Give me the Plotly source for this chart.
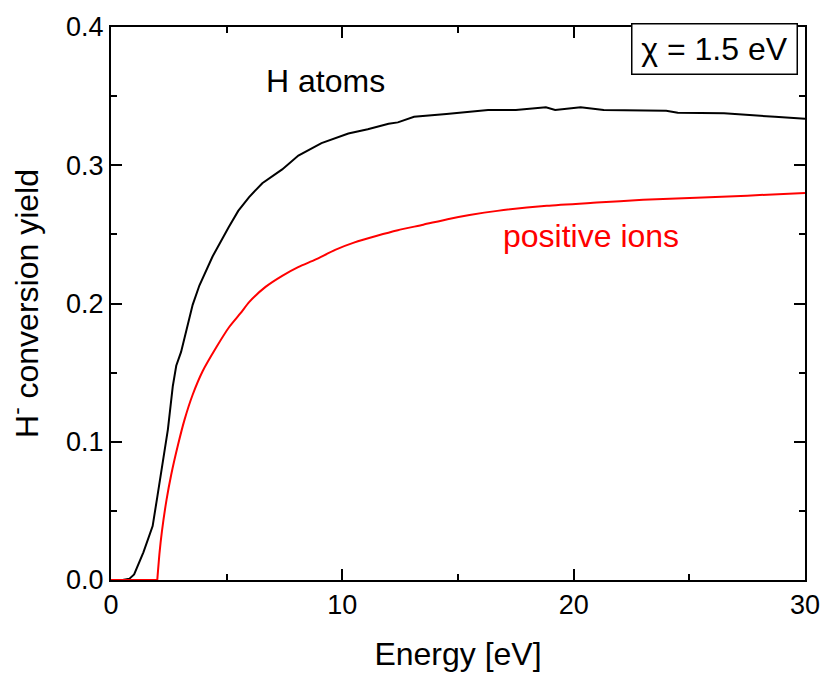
import plotly.graph_objects as go

# H- conversion yield versus incident energy (work function chi = 1.5 eV)
energy_atoms = [0.0, 0.5, 0.8, 1.0, 1.4, 1.8, 2.0, 2.1, 2.3, 2.46, 2.67, 2.82, 3.03, 3.25,
                3.53, 3.82, 4.39, 5.08, 5.5, 5.97, 6.54, 7.4, 8.1, 9.1, 10.26, 11.1,
                12.0, 12.4, 13.1, 14.5, 16.3, 17.5, 18.8, 19.2, 20.3, 21.3, 24.0, 24.5,
                26.5, 28.7, 30.0]
yield_atoms = [0.0, 0.0, 0.001, 0.004, 0.020, 0.039, 0.060, 0.071, 0.092, 0.109, 0.140,
               0.155, 0.165, 0.180, 0.199, 0.213, 0.234, 0.255, 0.267, 0.277, 0.287,
               0.297, 0.307, 0.316, 0.323, 0.326, 0.330, 0.331, 0.335, 0.337, 0.340,
               0.340, 0.342, 0.340, 0.342, 0.340, 0.3394, 0.338, 0.3376, 0.335, 0.3337]

energy_ions = [0.0, 2.0, 2.1, 2.2, 2.4, 2.6, 2.9, 3.18, 3.53, 3.96, 4.54, 5.11, 5.6,
               5.97, 6.68, 7.4, 8.11, 8.83, 9.69, 10.5, 11.5, 12.4, 13.5, 14.55, 15.5,
               16.7, 18.84, 21.0, 23.0, 25.3, 27.5, 30.0]
yield_ions = [0.0, 0.0, 0.020, 0.035, 0.058, 0.076, 0.098, 0.116, 0.134, 0.151, 0.168,
              0.183, 0.193, 0.201, 0.212, 0.220, 0.2265, 0.2317, 0.2388, 0.244, 0.249,
              0.253, 0.257, 0.261, 0.264, 0.267, 0.2707, 0.273, 0.275, 0.2765, 0.278,
              0.280]

x_ticks = [0, 10, 20, 30]
y_ticks = [0.0, 0.1, 0.2, 0.3, 0.4]

FONT = "Liberation Sans, Arial, sans-serif"

fig = go.Figure()
fig.add_trace(go.Scatter(x=energy_atoms, y=yield_atoms, mode="lines",
                         line=dict(color="black", width=2), name="H atoms"))
# the ion curve is a smooth model result: flat part, then a light spline
fig.add_trace(go.Scatter(x=energy_ions[:2], y=yield_ions[:2], mode="lines",
                         line=dict(color="#ff0000", width=2), hoverinfo="skip"))
fig.add_trace(go.Scatter(x=energy_ions[1:], y=yield_ions[1:], mode="lines",
                         line=dict(color="#ff0000", width=2, shape="spline",
                                   smoothing=0.6),
                         name="positive ions"))

axis_common = dict(showline=True, linecolor="black", linewidth=2, mirror="ticks",
                   ticks="inside", ticklen=11, tickwidth=2, tickcolor="black",
                   showgrid=False, zeroline=False,
                   tickfont=dict(family=FONT, size=27, color="black"))

fig.update_xaxes(range=[0, 30], tickvals=x_ticks,
                 minor=dict(dtick=5, ticks="inside", ticklen=6, tickwidth=2,
                            tickcolor="black", showgrid=False),
                 title=dict(text="Energy [eV]", standoff=23,
                            font=dict(family=FONT, size=32, color="black")),
                 **axis_common)
fig.update_yaxes(range=[0, 0.4], tickvals=y_ticks, tickformat=".1f",
                 minor=dict(dtick=0.05, ticks="inside", ticklen=6, tickwidth=2,
                            tickcolor="black", showgrid=False),
                 title=dict(text="H<sup>-</sup> conversion yield", standoff=18,
                            font=dict(family=FONT, size=32, color="black")),
                 **axis_common)

fig.add_annotation(x=9.27, y=0.361, text="H atoms", showarrow=False,
                   font=dict(family=FONT, size=32, color="black"))
fig.add_annotation(x=20.75, y=0.2485, text="positive ions", showarrow=False,
                   font=dict(family=FONT, size=32, color="#ff0000"))
fig.add_annotation(x=26.1, y=0.3838, text="χ = 1.5 eV", showarrow=False,
                   font=dict(family=FONT, size=32, color="black"),
                   bordercolor="black", borderwidth=1.5, borderpad=0,
                   width=164, height=49, bgcolor="white")

fig.update_layout(width=832, height=682, showlegend=False,
                  paper_bgcolor="white", plot_bgcolor="white",
                  margin=dict(l=111, r=22, t=15, b=102))

fig.write_html("out.html")
